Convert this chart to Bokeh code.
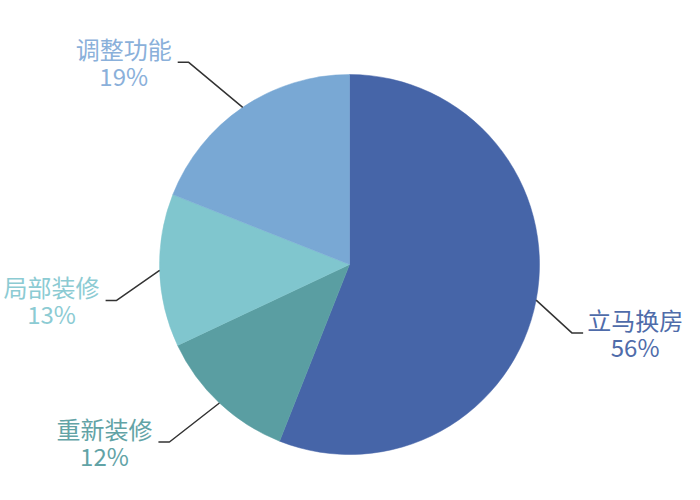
from math import pi, cos, sin

from bokeh.plotting import figure
from bokeh.models import Range1d
from bokeh.core.properties import value
from bokeh.embed import file_html
from bokeh.resources import INLINE

# --- data (clockwise from 12 o'clock) ---
labels = ["立马换房", "重新装修", "局部装修", "调整功能"]
shares = [56, 12, 13, 19]
slice_colors = ["#4665A8", "#5A9EA2", "#80C6CE", "#79A8D4"]
text_colors = ["#4F6CAA", "#62A3A6", "#8CCBD3", "#8AB0DA"]

# leader elbow offsets (dx, dy from slice edge), side and label distance
elbows = [(36, -33), (-50, -39), (-43, -30), (-54, 45)]
sides = [1, -1, -1, -1]
gaps = [52, 54, 54, 54]

W, H = 684, 484
cx, cy, r = 350, 235, 190  # page pixels, y measured up from bottom

p = figure(
    width=W,
    height=H,
    x_range=Range1d(1, 1 + W),
    y_range=Range1d(15, 15 + H),
    output_backend="svg",
    toolbar_location=None,
    min_border=0,
    outline_line_color=None,
)
p.axis.visible = False
p.grid.visible = False

total = float(sum(shares))
cum = 0.0
for lab, s, col, tcol, (dx, dy), side, gap in zip(
    labels, shares, slice_colors, text_colors, elbows, sides, gaps
):
    a0 = pi / 2 - cum / total * 2 * pi
    cum += s
    a1 = pi / 2 - cum / total * 2 * pi
    p.wedge(
        x=cx, y=cy, radius=r, start_angle=a0, end_angle=a1,
        direction="clock", fill_color=col, line_color=col, line_width=0.5,
    )

    # leader line from mid-angle on the edge
    mid = (a0 + a1) / 2
    x0, y0 = cx + r * cos(mid), cy + r * sin(mid)
    x1, y1 = x0 + dx, y0 + dy
    x2 = x1 + side * 11
    p.line([x0, x1, x2], [y0, y1, y1], line_color="#333333", line_width=1.5)

    tx = x2 + side * gap
    for txt, yy in [(lab, y1 + 14), ("%d%%" % s, y1 - 13)]:
        p.text(
            x=[tx], y=[yy], text=[txt],
            text_align="center", text_baseline="middle",
            text_font=value("Noto Sans CJK SC"), text_font_size="24px",
            text_color=tcol,
        )

open("out.html", "w").write(file_html(p, INLINE))
